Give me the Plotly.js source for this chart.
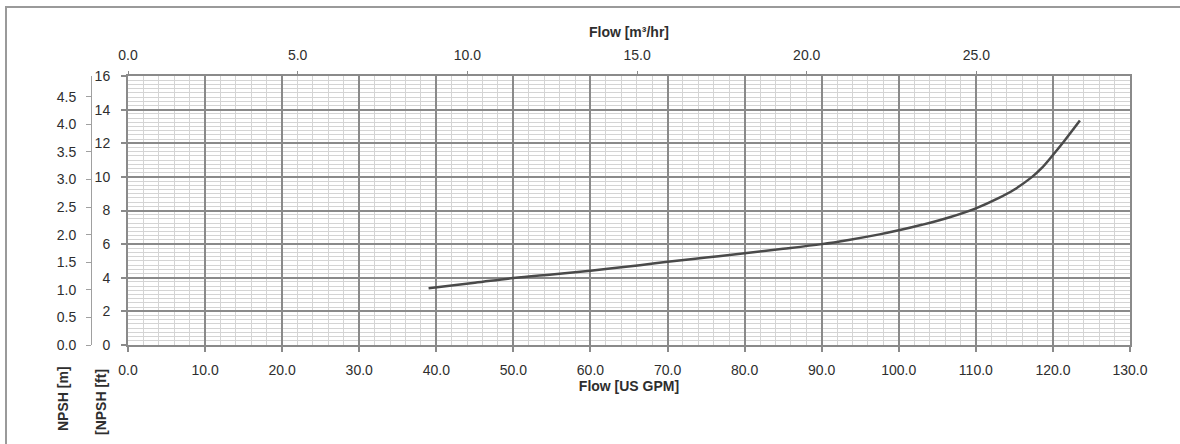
<!DOCTYPE html>
<html>
<head>
<meta charset="utf-8">
<script src="https://cdn.plot.ly/plotly-3.0.1.min.js"></script>
<style>
  html, body { margin: 0; padding: 0; background: #fff; }
  #wrap { position: relative; width: 1180px; height: 444px; }
  #frame { position: absolute; left: 5px; top: 6px; width: 1175px; height: 438px;
           border-left: 2px solid #9a9a9a; border-top: 2px solid #9a9a9a; box-sizing: border-box; pointer-events: none; }
  #chart { position: absolute; left: 0; top: 0; width: 1180px; height: 444px; }
</style>
</head>
<body>
<div id="wrap">
  <div id="chart"></div>
  <div id="frame"></div>
</div>
<script>
// Flow in US GPM and NPSH required in feet
const flowGpm = [39, 45, 50, 55, 60, 66.4, 70, 75, 80, 85, 90, 93.5, 97.5, 100, 103, 106.6, 110, 113, 115, 117.3, 118.5, 120, 121.5, 123.5];
const npshFt  = [3.38, 3.70, 3.98, 4.20, 4.42, 4.75, 4.95, 5.20, 5.46, 5.72, 6.00, 6.25, 6.58, 6.82, 7.15, 7.60, 8.13, 8.75, 9.25, 10.00, 10.50, 11.30, 12.15, 13.35];

const gpmTicks = [0,10,20,30,40,50,60,70,80,90,100,110,120,130];
const m3hTicks = [0,5,10,15,20,25];
const ftTicks  = [0,2,4,6,8,10,12,14,16];
const mTicks   = [0,0.5,1.0,1.5,2.0,2.5,3.0,3.5,4.0,4.5];

const GPM_TO_M3H = 0.2271247;
const FT_TO_M = 0.3048;

const xMax = 130, yMax = 16;
const txt = '#2e2e2e';
const major = '#8a8a8a';
const minor = '#d4d4d4';
const fnt = {family: 'Liberation Sans, Arial, sans-serif', size: 14, color: txt};
const bold = {family: 'Liberation Sans, Arial, sans-serif', size: 14, color: txt, weight: 'bold'};

const trace = {
  x: flowGpm, y: npshFt, type: 'scatter', mode: 'lines',
  line: {color: '#4a4a4a', width: 2.5, shape: 'spline', smoothing: 1.0},
  xaxis: 'x', yaxis: 'y', hoverinfo: 'skip', showlegend: false
};

const layout = {
  width: 1180, height: 444,
  margin: {l: 91, r: 50, t: 76, b: 99, pad: 0},
  paper_bgcolor: '#fff', plot_bgcolor: '#fff',
  showlegend: false,
  font: fnt,
  xaxis: {
    domain: [37/1039, 1], range: [0, xMax],
    tickvals: gpmTicks, ticktext: gpmTicks.map(v => v.toFixed(1)),
    showgrid: true, gridcolor: major, gridwidth: 2,
    minor: {dtick: 2, showgrid: true, gridcolor: minor, gridwidth: 1},
    ticks: 'outside', ticklen: 5, tickcolor: major, tickwidth: 2,
    ticklabelstandoff: 6,
    showline: true, linecolor: major, linewidth: 2, mirror: true,
    zeroline: false, tickfont: fnt,
    title: {text: 'Flow [US GPM]', font: bold, standoff: 3},
    automargin: false, fixedrange: true
  },
  xaxis2: {
    overlaying: 'x', side: 'top', anchor: 'y',
    range: [0, xMax * GPM_TO_M3H],
    tickvals: m3hTicks, ticktext: m3hTicks.map(v => v.toFixed(1)),
    showgrid: false, zeroline: false,
    ticks: 'outside', ticklen: 4, tickcolor: major, tickwidth: 1,
    ticklabelstandoff: 5,
    tickfont: fnt,
    title: {text: 'Flow [m³/hr]', font: bold, standoff: 6},
    automargin: false, fixedrange: true
  },
  yaxis: {
    domain: [0, 1], range: [0, yMax], anchor: 'x',
    tickvals: ftTicks, ticktext: ftTicks.map(String),
    showgrid: true, gridcolor: major, gridwidth: 2,
    minor: {dtick: 0.25, showgrid: true, gridcolor: minor, gridwidth: 1},
    ticks: 'outside', ticklen: 5, tickcolor: major, tickwidth: 2,
    ticklabelstandoff: 8,
    showline: true, linecolor: major, linewidth: 2, mirror: true,
    zeroline: false, tickfont: fnt,
    automargin: false, fixedrange: true
  },
  yaxis2: {
    overlaying: 'y', side: 'left', anchor: 'free', position: 0,
    range: [0, yMax * FT_TO_M],
    tickvals: mTicks, ticktext: mTicks.map(v => v.toFixed(1)),
    showgrid: false, zeroline: false,
    showline: true, linecolor: '#a0a0a0', linewidth: 1,
    ticks: 'outside', ticklen: 5, tickcolor: '#a0a0a0', tickwidth: 1,
    ticklabelstandoff: 7,
    tickfont: fnt,
    automargin: false, fixedrange: true
  },
  annotations: [
    {text: 'NPSH [m]', xref: 'paper', yref: 'paper', x: (63-91)/1039, y: (345-399)/269,
     textangle: -90, showarrow: false, font: bold, xanchor: 'center', yanchor: 'middle'},
    {text: '[NPSH [ft]', xref: 'paper', yref: 'paper', x: (101-91)/1039, y: (345-402)/269,
     textangle: -90, showarrow: false, font: bold, xanchor: 'center', yanchor: 'middle'}
  ]
};

// invisible helper traces to activate secondary axes
const topAxisTrace = {x: [0], y: [0], xaxis: 'x2', yaxis: 'y', mode: 'markers',
  marker: {opacity: 0}, hoverinfo: 'skip', showlegend: false};
const mAxisTrace = {x: [0], y: [0], xaxis: 'x', yaxis: 'y2', mode: 'markers',
  marker: {opacity: 0}, hoverinfo: 'skip', showlegend: false};

Plotly.newPlot('chart', [trace, topAxisTrace, mAxisTrace], layout, {staticPlot: true, displayModeBar: false});
</script>
</body>
</html>
